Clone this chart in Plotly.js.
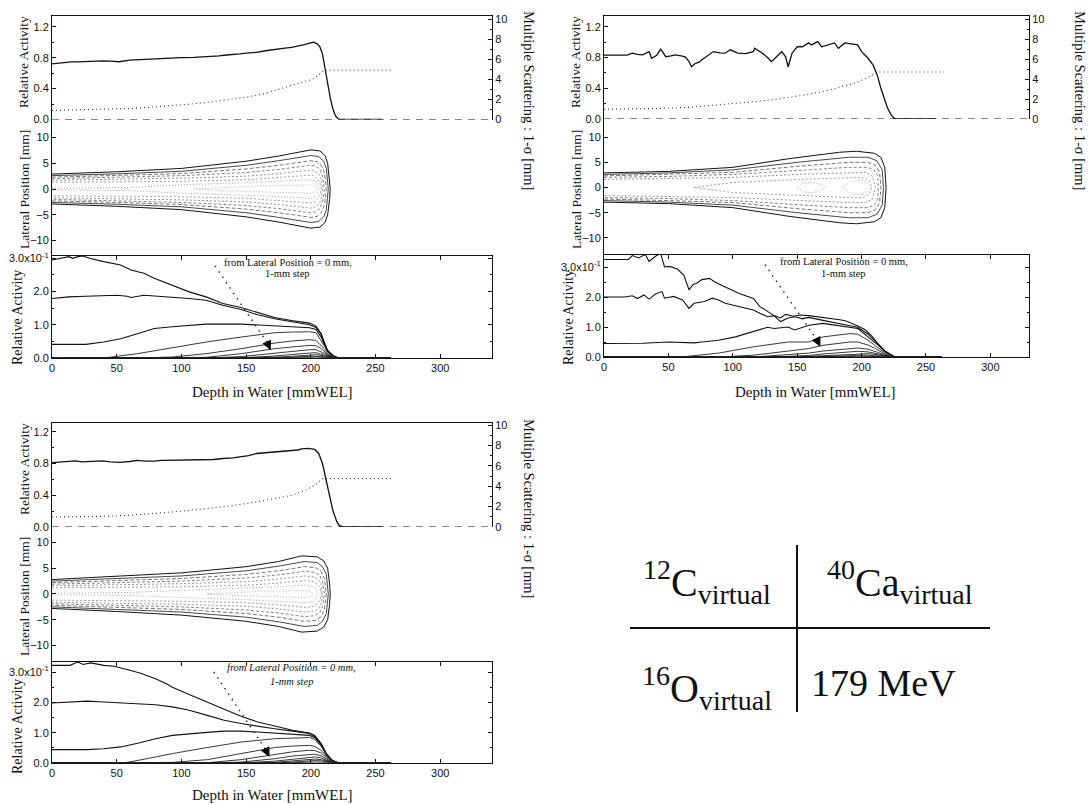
<!DOCTYPE html>
<html><head><meta charset="utf-8">
<script src="https://cdn.plot.ly/plotly-3.0.1.min.js"></script>
<style>html,body{margin:0;padding:0;background:#fff}#chart{width:1091px;height:805px}</style>
</head><body><div id="chart"></div>
<script>
// ---------------- DATA ----------------
// 12C virtual (top-left)
const C_actDepth = [0,5,10,15,20,26,32,39,45,52,60,66,71,80,86,92,100,110,119,125,129,135,140,145,150,158,165,172,180,185,190,195,199,202,205,207,209,211,213,215,217,219,221,223,235,245,255];
const C_act = [0.72,0.73,0.74,0.745,0.745,0.75,0.755,0.76,0.755,0.748,0.77,0.775,0.78,0.785,0.79,0.80,0.80,0.805,0.81,0.815,0.825,0.835,0.84,0.85,0.86,0.87,0.89,0.91,0.925,0.935,0.95,0.97,0.99,1.00,0.98,0.94,0.85,0.65,0.45,0.28,0.14,0.05,0.01,0,0,0,0];
const C_msDepth = [0,20,40,60,71,85,101,120,135,151,165,172,185,193,201,206,210,230,250,263];
const C_ms = [0.9,0.95,1.0,1.1,1.17,1.3,1.47,1.7,1.95,2.23,2.6,2.9,3.4,3.7,4.0,4.4,4.9,4.9,4.9,4.9];
const C_l0x = [0,8,13,16,20,24,29,40,53,61,71,79,93,106,119,132,146,159,172,185,199,204,208,210,213,217,221,240,262];
const C_l0y = [2.95,3.0,3.05,3.0,3.05,3.07,3.0,2.9,2.8,2.65,2.55,2.4,2.2,1.99,1.84,1.64,1.52,1.36,1.22,1.13,1.05,0.96,0.73,0.43,0.23,0.08,0,0,0];
const C_l1x = [0,13,26,40,50,58,61,71,93,106,119,132,146,159,172,185,199,204,208,211,213,217,221,240,262];
const C_l1y = [1.79,1.84,1.86,1.89,1.89,1.86,1.82,1.89,1.84,1.79,1.74,1.59,1.46,1.30,1.18,1.09,1.0,0.92,0.72,0.42,0.22,0.07,0,0,0];
const C_l2x = [0,26,40,53,66,79,93,106,119,146,159,172,185,199,204,208,211,213,217,221,240,262];
const C_l2y = [0.41,0.41,0.48,0.58,0.73,0.89,0.94,0.99,1.02,1.02,0.99,0.96,0.94,0.91,0.86,0.63,0.38,0.2,0.07,0,0,0];
const C_lowX = [0,40,66,93,119,146,172,185,199,204,208,211,213,217,221,262];
const C_l3 = [0,0,0.13,0.31,0.48,0.63,0.76,0.78,0.79,0.76,0.53,0.33,0.18,0.06,0,0];
const C_l4 = [0,0,0,0.03,0.13,0.28,0.45,0.51,0.55,0.53,0.38,0.25,0.13,0.04,0,0];
const C_l5 = [0,0,0,0,0.02,0.13,0.28,0.33,0.38,0.37,0.28,0.18,0.1,0.03,0,0];
const C_l6 = [0,0,0,0,0,0.04,0.15,0.21,0.25,0.25,0.19,0.13,0.07,0.02,0,0];
const C_l7 = [0,0,0,0,0,0,0.06,0.11,0.15,0.16,0.12,0.08,0.05,0.02,0,0];
const C_l8 = [0,0,0,0,0,0,0.02,0.05,0.09,0.1,0.08,0.05,0.03,0.01,0,0];
const C_l9 = [0,0,0,0,0,0,0,0.02,0.05,0.06,0.05,0.03,0.02,0,0,0];
const C_l10 = [0,0,0,0,0,0,0,0,0.02,0.03,0.03,0.02,0.01,0,0,0];
const C_c1d = [0,50,100,150,175,200,207,211,213,214.5,215], C_c1w = [2.9,3.35,4.0,5.4,6.4,7.6,7.4,6.5,5,2,0];
const C_c2d = [0,50,100,150,175,200,206,210,212,213.5],     C_c2w = [2.6,2.95,3.45,4.6,5.5,6.5,6.3,5.4,4,0];
const C_c3d = [0,50,100,150,175,200,205,208,210.5,212],     C_c3w = [2.3,2.6,3.0,3.9,4.6,5.5,5.3,4.6,3.2,0];
const C_c4d = [0,50,100,150,175,200,204,207,209,210.5],     C_c4w = [2.0,2.3,2.6,3.2,3.8,4.6,4.4,3.8,2.5,0];
const C_c5d = [0,50,100,150,175,200,203,206,208,209],       C_c5w = [1.7,1.9,2.1,2.5,3.0,3.7,3.5,3.0,2.0,0];
const C_c6d = [0,50,100,150,175,200,203,205,207,208],       C_c6w = [1.3,1.4,1.5,1.8,2.2,2.7,2.5,2.0,1.3,0];
const C_c7d = [0,60,100,150,175,200,203,205,206],           C_c7w = [0.15,0.3,0.8,1.2,1.5,1.8,1.6,1.2,0];
const C_c8d = [110,130,150,175,200,203,204.5],              C_c8w = [0,0.3,0.5,0.65,0.8,0.6,0];

// 40Ca virtual (top-right)
const Ca_actDepth = [0,18,22,26,30,35,37,41,44,48,52,55,60,63,66,68,71,74,76,81,85,90,94,98,104,110,116,117,123,127,130,134,138,141,143,146,150,154,159,161,166,169,174,179,182,187,192,197,200,205,209,212,215,218,220,223,226,240,258];
const Ca_act = [0.83,0.83,0.856,0.84,0.834,0.877,0.79,0.83,0.908,0.81,0.82,0.834,0.82,0.81,0.75,0.68,0.725,0.74,0.77,0.834,0.877,0.86,0.856,0.90,0.856,0.85,0.877,0.92,0.856,0.80,0.746,0.81,0.877,0.81,0.68,0.856,0.94,0.94,0.99,0.964,1.007,0.94,0.964,0.99,0.92,0.99,0.977,0.964,0.877,0.79,0.70,0.58,0.40,0.25,0.15,0.05,0,0,0];
const Ca_msDepth = [0,20,40,67,90,116,135,156,170,183,195,202,208,213,240,264];
const Ca_ms = [0.97,1.0,1.05,1.17,1.4,1.73,2.0,2.4,2.75,3.2,3.6,4.0,4.35,4.7,4.7,4.7];
const Ca_l0x = [0,19,22,27,32,35,40,44,47,51,57,62,66,69,72,76,82,86,90,97,105,116,121,127,132,137,141,147,152,159,167,175,183,188,193,198,203,208,213,218,224,226,262];
const Ca_l0y = [3.25,3.25,3.38,3.3,3.42,3.19,3.36,3.45,3.0,3.02,2.93,2.72,2.24,2.41,2.46,2.58,2.62,2.50,2.42,2.28,2.12,1.95,1.68,1.52,1.38,1.30,1.42,1.36,1.40,1.38,1.34,1.30,1.24,1.20,1.12,1.02,0.90,0.70,0.42,0.2,0.04,0,0];
const Ca_l1x = [0,16,22,26,31,35,40,45,47,54,61,66,70,78,84,89,94,105,116,121,127,132,137,143,148,154,159,170,181,189,197,205,213,218,224,226,262];
const Ca_l1y = [2.0,2.0,2.04,1.95,2.07,1.93,2.1,2.18,1.96,2.02,1.9,1.62,1.79,1.85,1.96,1.9,1.79,1.68,1.57,1.46,1.34,1.38,1.18,1.30,1.34,1.28,1.32,1.22,1.14,1.06,0.99,0.76,0.43,0.2,0.04,0,0];
const Ca_l2x = [0,30,50,70,76,89,102,116,127,132,143,148,159,170,180,191,197,205,213,218,224,226,262];
const Ca_l2y = [0.45,0.46,0.5,0.47,0.5,0.56,0.67,0.84,0.99,0.95,1.0,0.9,1.06,1.12,1.06,1.0,0.95,0.67,0.39,0.18,0.03,0,0];
const Ca_lowX = [0,60,89,116,143,159,170,191,197,205,210,213,218,222,226,262];
const Ca_l3 = [0,0,0.13,0.34,0.5,0.5,0.67,0.78,0.76,0.56,0.4,0.3,0.14,0.05,0,0];
const Ca_l4 = [0,0,0,0.06,0.2,0.28,0.39,0.5,0.5,0.4,0.3,0.22,0.1,0.03,0,0];
const Ca_l5 = [0,0,0,0,0.08,0.13,0.2,0.28,0.3,0.26,0.2,0.15,0.07,0.02,0,0];
const Ca_l6 = [0,0,0,0,0.02,0.05,0.1,0.17,0.19,0.17,0.14,0.1,0.05,0.01,0,0];
const Ca_l7 = [0,0,0,0,0,0.02,0.04,0.09,0.11,0.11,0.09,0.07,0.03,0.01,0,0];
const Ca_l8 = [0,0,0,0,0,0,0.02,0.04,0.06,0.06,0.05,0.04,0.02,0,0,0];
const Ca_l9 = [0,0,0,0,0,0,0,0.02,0.03,0.03,0.03,0.02,0.01,0,0,0];
const Ca_l10 = [0,0,0,0,0,0,0,0,0.01,0.015,0.015,0.01,0,0,0,0];
const Ca_c1d = [0,50,100,143,183,196,210,215,218,219], Ca_c1w = [2.9,3.2,4.0,5.7,7.0,7.2,6.8,6.0,4,0];
const Ca_c2d = [0,50,100,150,190,205,212,216,217],     Ca_c2w = [2.6,2.9,3.5,5.0,6.0,6.0,5.3,3.5,0];
const Ca_c3d = [0,50,100,150,190,205,211,214,215],     Ca_c3w = [2.3,2.6,3.0,4.2,5.0,5.0,4.4,3,0];
const Ca_c4d = [0,50,100,150,190,205,210,212.5,213],   Ca_c4w = [2.0,2.2,2.6,3.4,4.0,4.0,3.4,2.4,0];
const Ca_c5d = [0,50,100,150,190,203,208,211],         Ca_c5w = [1.6,1.8,2.0,2.6,3.0,3.0,2.4,0];
const Ca_c6d = [70,100,150,190,200,206,208],           Ca_c6w = [0,1.0,1.6,2.0,2.0,1.4,0];
const Ca_c7d = [150,155,162,168,172],                  Ca_c7w = [0,0.9,1.0,0.6,0];
const Ca_c8d = [185,192,200,205,207],                  Ca_c8w = [0,1.2,1.4,0.8,0];

// 16O virtual (bottom-left)
const O_actDepth = [0,5,10,18,23,30,39,45,52,60,66,72,79,85,92,100,105,112,119,125,132,140,145,152,158,165,172,178,185,190,193,198,203,206,209,211,213,215,217,220,222,225,240,255];
const O_act = [0.81,0.815,0.82,0.834,0.82,0.825,0.834,0.82,0.813,0.825,0.84,0.83,0.83,0.84,0.842,0.84,0.845,0.84,0.842,0.85,0.863,0.87,0.884,0.90,0.926,0.935,0.947,0.95,0.965,0.97,0.985,0.99,0.977,0.93,0.80,0.65,0.505,0.35,0.21,0.07,0.02,0,0,0];
const O_msDepth = [0,20,40,60,79,100,119,140,158,175,185,195,203,209,235,262];
const O_ms = [0.98,1.0,1.05,1.15,1.31,1.55,1.8,2.1,2.46,2.85,3.1,3.55,4.1,4.76,4.76,4.76];
const O_l0x = [0,11,14,18,20,24,30,35,40,48,53,61,69,80,88,93,106,120,133,146,159,172,186,199,203,208,212,216,220,223,240,262];
const O_l0y = [3.22,3.22,3.22,3.3,3.33,3.25,3.3,3.26,3.22,3.19,3.14,3.05,2.95,2.78,2.62,2.5,2.26,2.01,1.79,1.54,1.35,1.21,1.08,0.99,0.91,0.64,0.31,0.11,0.02,0,0,0];
const O_l1x = [0,14,27,40,53,67,80,93,106,120,133,146,159,172,186,199,203,208,212,216,220,223,262];
const O_l1y = [1.98,2.01,2.04,2.01,1.98,1.93,1.92,1.85,1.74,1.57,1.41,1.30,1.21,1.13,1.05,0.97,0.88,0.62,0.29,0.1,0.02,0,0];
const O_l2x = [0,27,40,53,67,80,93,106,120,133,146,159,172,186,199,203,208,212,216,220,223,262];
const O_l2y = [0.44,0.44,0.47,0.53,0.66,0.8,0.91,0.97,1.01,1.05,1.05,1.02,0.99,0.95,0.91,0.84,0.6,0.28,0.1,0.02,0,0];
const O_lowX = [0,55,67,93,120,146,172,186,199,203,208,212,216,220,223,262];
const O_l3 = [0,0,0.09,0.31,0.51,0.69,0.8,0.83,0.84,0.78,0.55,0.27,0.1,0.02,0,0];
const O_l4 = [0,0,0,0.02,0.11,0.31,0.51,0.56,0.58,0.55,0.42,0.22,0.08,0.02,0,0];
const O_l5 = [0,0,0,0,0.01,0.11,0.29,0.37,0.42,0.41,0.33,0.18,0.07,0.01,0,0];
const O_l6 = [0,0,0,0,0,0.03,0.14,0.23,0.29,0.29,0.24,0.13,0.05,0.01,0,0];
const O_l7 = [0,0,0,0,0,0,0.06,0.13,0.2,0.2,0.17,0.09,0.04,0.01,0,0];
const O_l8 = [0,0,0,0,0,0,0.02,0.07,0.12,0.13,0.11,0.06,0.03,0,0,0];
const O_l9 = [0,0,0,0,0,0,0,0.03,0.07,0.08,0.07,0.04,0.02,0,0,0];
const O_l10 = [0,0,0,0,0,0,0,0.01,0.03,0.04,0.03,0.02,0.01,0,0,0];
const O_c1d = [0,50,100,150,175,193,205,210,213,214.5,215], O_c1w = [2.8,3.4,4.1,5.3,6.3,7.4,7.2,6.4,5,2,0];
const O_c2d = [0,50,100,150,175,195,205,209,212,213.5],     O_c2w = [2.5,3.0,3.5,4.5,5.4,6.3,6.1,5.3,3.8,0];
const O_c3d = [0,50,100,150,175,195,204,208,210.5,212],     O_c3w = [2.2,2.6,3.0,3.8,4.5,5.3,5.1,4.4,3,0];
const O_c4d = [0,50,100,150,175,195,203,207,209,210.5],     O_c4w = [1.9,2.2,2.5,3.1,3.7,4.4,4.2,3.6,2.4,0];
const O_c5d = [0,50,100,150,175,195,203,206,208,209],       O_c5w = [1.6,1.8,2.0,2.4,2.9,3.5,3.3,2.8,1.8,0];
const O_c6d = [0,50,100,150,175,195,202,205,207,208],       O_c6w = [1.2,1.3,1.4,1.7,2.1,2.6,2.4,1.9,1.2,0];
const O_c7d = [0,60,100,150,175,195,202,204,205],           O_c7w = [0.15,0.3,0.7,1.1,1.4,1.7,1.5,1.1,0];
const O_c8d = [120,140,160,180,195,200,202],                O_c8w = [0,0.3,0.5,0.6,0.7,0.5,0];

const bottomTickVals = [0,1,2,3];
const bottomTickText = ['0.0','1.0','2.0','3.0x10<sup>-1</sup>'];
const tableCells = [['12','C'],['40','Ca'],['16','O']];
const energyLabel = '179 MeV';

// ---------------- LAYOUT ----------------
const W = 1091, H = 805;
const PX = x => x / W, PY = y => 1 - y / H;
const SERIF = 'Liberation Serif, Times New Roman, serif';
const SANS = 'Liberation Sans, Arial, sans-serif';

const groups = [
  {xL:52, xR:492, xMax:340, tTop:16, tBot:119.5, tMax:1.34, msMax:10.3, mBot:256, mMin:-13, mMax:13.5, bBot:358, bMax:3.07,
   act:[C_actDepth,C_act], ms:[C_msDepth,C_ms], lat:[[C_l0x,C_l0y],[C_l1x,C_l1y],[C_l2x,C_l2y]], lowX:C_lowX, low:[C_l3,C_l4,C_l5,C_l6,C_l7,C_l8,C_l9,C_l10],
   cont:[[C_c1d,C_c1w],[C_c2d,C_c2w],[C_c3d,C_c3w],[C_c4d,C_c4w],[C_c5d,C_c5w],[C_c6d,C_c6w],[C_c7d,C_c7w],[C_c8d,C_c8w]],
   arrow:[126,2.77,169,0.23], note:[182,2.86,2.53], italic:false,
   tl:{x1:24, ys:[62,190], x2:17, y3:318, rx:529, ry:100, xtx:272, xty:392}},
  {xL:604, xR:1029, xMax:330, tTop:16, tBot:119, tMax:1.34, msMax:10.3, mBot:255, mMin:-13.4, mMax:13.6, bBot:357, bMax:3.4,
   act:[Ca_actDepth,Ca_act], ms:[Ca_msDepth,Ca_ms], lat:[[Ca_l0x,Ca_l0y],[Ca_l1x,Ca_l1y],[Ca_l2x,Ca_l2y]], lowX:Ca_lowX, low:[Ca_l3,Ca_l4,Ca_l5,Ca_l6,Ca_l7,Ca_l8,Ca_l9,Ca_l10],
   cont:[[Ca_c1d,Ca_c1w],[Ca_c2d,Ca_c2w],[Ca_c3d,Ca_c3w],[Ca_c4d,Ca_c4w],[Ca_c5d,Ca_c5w],[Ca_c6d,Ca_c6w],[Ca_c7d,Ca_c7w],[Ca_c8d,Ca_c8w]],
   arrow:[125,3.08,168,0.34], note:[186,3.2,2.77], italic:false,
   tl:{x1:576, ys:[62,190], x2:568, y3:318, rx:1080, ry:100, xtx:815, xty:392}},
  {xL:52, xR:492, xMax:340, tTop:423, tBot:527, tMax:1.31, msMax:10.2, mBot:662, mMin:-13.2, mMax:13, bBot:763, bMax:3.33,
   act:[O_actDepth,O_act], ms:[O_msDepth,O_ms], lat:[[O_l0x,O_l0y],[O_l1x,O_l1y],[O_l2x,O_l2y]], lowX:O_lowX, low:[O_l3,O_l4,O_l5,O_l6,O_l7,O_l8,O_l9,O_l10],
   cont:[[O_c1d,O_c1w],[O_c2d,O_c2w],[O_c3d,O_c3w],[O_c4d,O_c4w],[O_c5d,O_c5w],[O_c6d,O_c6w],[O_c7d,O_c7w],[O_c8d,O_c8w]],
   arrow:[125,3.0,168,0.2], note:[185,3.14,2.69], italic:true,
   tl:{x1:24, ys:[469,597], x2:17, y3:727, rx:529, ry:508, xtx:272, xty:795}}
];

const contStyle = [
  {color:'#111', width:1.0, dash:'solid'}, {color:'#333', width:0.9, dash:'solid'},
  {color:'#555', width:0.8, dash:'4px,2px'}, {color:'#666', width:0.8, dash:'3px,2px'},
  {color:'#777', width:0.8, dash:'2px,2px'}, {color:'#888', width:0.8, dash:'2px,2px'},
  {color:'#888', width:0.8, dash:'1px,2px'}, {color:'#999', width:0.8, dash:'1px,2px'}
];

const traces = [];
const layout = {
  width: W, height: H, margin:{l:0,r:0,t:0,b:0}, paper_bgcolor:'#fff', plot_bgcolor:'rgba(0,0,0,0)',
  showlegend:false, shapes:[], annotations:[], font:{family:SANS, size:11, color:'#111'}
};
const sfx = n => n === 1 ? '' : String(n);
const tickFont = {family:SANS, size:11, color:'#111'};
const baseAx = {showgrid:false, zeroline:false, linecolor:'#111', linewidth:1, tickcolor:'#111', ticklen:4, tickfont:tickFont};
const paperNote = (x, y, text, font, angle) => ({xref:'paper', yref:'paper', x:PX(x), y:PY(y), xanchor:'center', yanchor:'middle',
  text:text, textangle:angle || 0, showarrow:false, font:font});

groups.forEach((g, gi) => {
  const xT = 3*gi+1, xM = 3*gi+2, xB = 3*gi+3;
  const yT = 4*gi+1, yR = 4*gi+2, yM = 4*gi+3, yB = 4*gi+4;
  const xdom = [PX(g.xL), PX(g.xR)];
  const xr = [0, g.xMax];
  layout['xaxis'+sfx(xT)] = Object.assign({}, baseAx, {domain:xdom, range:xr, anchor:'y'+sfx(yT), side:'top', showline:true, ticks:'', showticklabels:false});
  layout['yaxis'+sfx(yT)] = Object.assign({}, baseAx, {domain:[PY(g.tBot), PY(g.tTop)], range:[0,g.tMax], anchor:'x'+sfx(xT), showline:true,
      ticks:'inside', tick0:0, dtick:0.4, tickformat:'.1f', minor:{ticks:'inside', dtick:0.2, ticklen:2, tickcolor:'#111'}});
  layout['yaxis'+sfx(yR)] = Object.assign({}, baseAx, {domain:[PY(g.tBot), PY(g.tTop)], range:[0,g.msMax], anchor:'x'+sfx(xT), overlaying:'y'+sfx(yT), side:'right', showline:true,
      ticks:'inside', tick0:0, dtick:2, minor:{ticks:'inside', dtick:1, ticklen:2, tickcolor:'#111'}});
  layout['xaxis'+sfx(xM)] = Object.assign({}, baseAx, {domain:xdom, range:xr, anchor:'y'+sfx(yM), visible:false});
  layout['yaxis'+sfx(yM)] = Object.assign({}, baseAx, {domain:[PY(g.mBot), PY(g.tBot)], range:[g.mMin,g.mMax], anchor:'x'+sfx(xM), showline:true,
      ticks:'inside', tickvals:[-10,-5,0,5,10]});
  layout['xaxis'+sfx(xB)] = Object.assign({}, baseAx, {domain:xdom, range:xr, anchor:'y'+sfx(yB), showline:true, mirror:'ticks',
      ticks:'inside', tick0:0, dtick:50});
  layout['yaxis'+sfx(yB)] = Object.assign({}, baseAx, {domain:[PY(g.bBot), PY(g.mBot)], range:[0,g.bMax], anchor:'x'+sfx(xB), showline:true, mirror:'ticks',
      ticks:'inside', tickmode:'array', tickvals:bottomTickVals, ticktext:bottomTickText, minor:{ticks:'inside', dtick:0.5, ticklen:2, tickcolor:'#111'}});

  // top: relative activity (left) and multiple scattering (right)
  traces.push({x:g.act[0], y:g.act[1], xaxis:'x'+sfx(xT), yaxis:'y'+sfx(yT), mode:'lines', line:{color:'#111', width:1.3}, hoverinfo:'skip'});
  traces.push({x:g.ms[0], y:g.ms[1], xaxis:'x'+sfx(xT), yaxis:'y'+sfx(yR), mode:'lines', line:{color:'#333', width:1.1, dash:'1px,3px'}, hoverinfo:'skip'});
  layout.shapes.push({type:'line', xref:'x'+sfx(xT)+' domain', yref:'y'+sfx(yT), x0:0, x1:1, y0:0, y1:0, line:{color:'#111', width:1.2, dash:'7px,6px'}});

  // middle: lateral contours (closed loops mirrored about 0)
  g.cont.forEach((c, ci) => {
    const d = c[0], w = c[1];
    const xs = d.concat(d.slice().reverse());
    const ys = w.concat(w.slice().reverse().map(v => -v));
    traces.push({x:xs, y:ys, xaxis:'x'+sfx(xM), yaxis:'y'+sfx(yM), mode:'lines', line:contStyle[ci], hoverinfo:'skip'});
  });

  // bottom: lateral slices
  g.lat.forEach(l => traces.push({x:l[0], y:l[1], xaxis:'x'+sfx(xB), yaxis:'y'+sfx(yB), mode:'lines', line:{color:'#111', width:1.1}, hoverinfo:'skip'}));
  g.low.forEach(l => traces.push({x:g.lowX, y:l, xaxis:'x'+sfx(xB), yaxis:'y'+sfx(yB), mode:'lines', line:{color:'#222', width:0.9}, hoverinfo:'skip'}));

  // arrow with dotted shaft
  const a = g.arrow;
  layout.shapes.push({type:'line', xref:'x'+sfx(xB), yref:'y'+sfx(yB), x0:a[0], y0:a[1], x1:a[2]-2.5, y1:a[3]+0.22, line:{color:'#222', width:1.4, dash:'1.5px,5px'}});
  layout.annotations.push({xref:'x'+sfx(xB), yref:'y'+sfx(yB), axref:'x'+sfx(xB), ayref:'y'+sfx(yB), x:a[2], y:a[3], ax:a[2]-3.5, ay:a[3]+0.3,
      text:'', showarrow:true, arrowhead:2, arrowsize:1.6, arrowwidth:1.2, arrowcolor:'#000'});
  const nf = {family:SERIF, size:10.5, color:'#111'};
  const wrap = t => g.italic ? '<i>'+t+'</i>' : t;
  layout.annotations.push({xref:'x'+sfx(xB), yref:'y'+sfx(yB), x:g.note[0], y:g.note[1], xanchor:'center', yanchor:'middle', text:wrap('from Lateral Position = 0 mm,'), showarrow:false, font:nf});
  layout.annotations.push({xref:'x'+sfx(xB), yref:'y'+sfx(yB), x:g.note[0], y:g.note[2], xanchor:'center', yanchor:'middle', text:wrap('1-mm step'), showarrow:false, font:nf});

  // axis titles
  const tf = {family:SERIF, size:13.5, color:'#111'};
  const t = g.tl;
  layout.annotations.push(paperNote(t.x1, t.ys[0], 'Relative Activity', tf, -90));
  layout.annotations.push(paperNote(t.x1, t.ys[1], 'Lateral Position [mm]', tf, -90));
  layout.annotations.push(paperNote(t.x2, t.y3, 'Relative Activity', {family:SERIF, size:14, color:'#111'}, -90));
  layout.annotations.push(paperNote(t.rx, t.ry, 'Multiple Scattering : 1-σ [mm]', {family:SERIF, size:14.5, color:'#111'}, 90));
  layout.annotations.push(paperNote(t.xtx, t.xty, 'Depth in Water [mmWEL]', {family:SERIF, size:15, color:'#111'}, 0));
});

// table in the bottom-right corner
layout.shapes.push({type:'line', xref:'paper', yref:'paper', x0:PX(797), x1:PX(797), y0:PY(545), y1:PY(712), line:{color:'#111', width:2}});
layout.shapes.push({type:'line', xref:'paper', yref:'paper', x0:PX(630), x1:PX(990), y0:PY(628), y1:PY(628), line:{color:'#111', width:2}});
const bigF = {family:SERIF, size:40, color:'#111'};
const cellPos = [[707,582],[900,582],[707,688]];
tableCells.forEach((c, i) => {
  layout.annotations.push(paperNote(cellPos[i][0], cellPos[i][1], '<sup>'+c[0]+'</sup>'+c[1]+'<sub>virtual</sub>', bigF, 0));
});
layout.annotations.push(paperNote(883, 683, energyLabel, {family:SERIF, size:38, color:'#111'}, 0));

Plotly.newPlot('chart', traces, layout, {staticPlot:true, displayModeBar:false});
</script>
</body></html>
